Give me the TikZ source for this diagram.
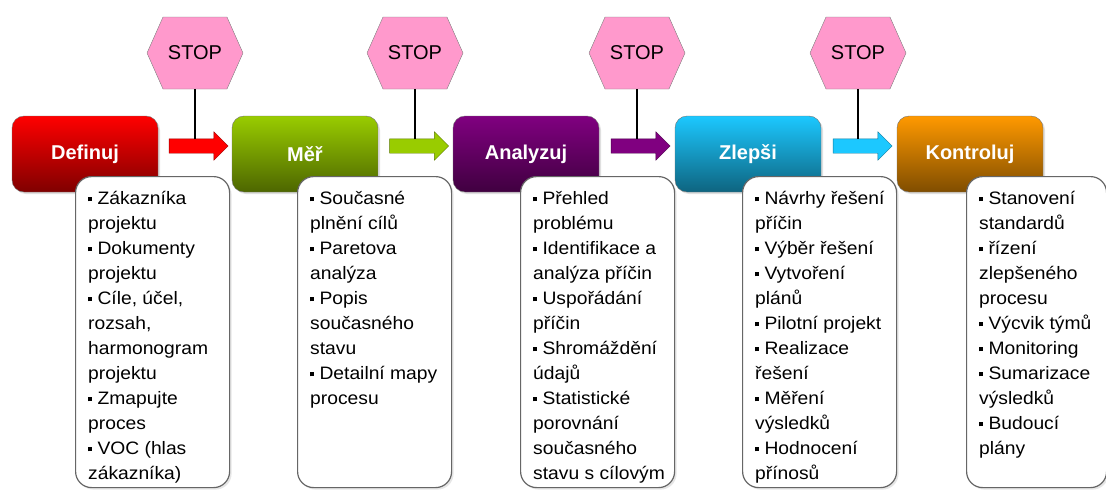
\documentclass[tikz,border=0pt]{standalone}
\usepackage{fontspec}
\setmainfont{Liberation Sans}
\newfontfamily\listfont[FakeStretch=1.07]{Liberation Sans}
\usetikzlibrary{positioning,calc,shapes.symbols,shapes.arrows,shadows}

\definecolor{defred}{HTML}{FF0000}
\definecolor{mergreen}{HTML}{99CC00}
\definecolor{anapurple}{HTML}{800080}
\definecolor{zlecyan}{HTML}{1CC8FF}
\definecolor{konorange}{HTML}{FF9900}
\definecolor{stoppink}{HTML}{FF99CC}

\newcommand{\bul}{\rule[3pt]{4pt}{4pt}\ }

\begin{document}
\begin{tikzpicture}[x=1pt,y=-1pt,
    phase/.style={draw=black!55, rounded corners=12pt, minimum width=146pt, minimum height=76pt,
      font=\bfseries\fontsize{20}{24}\selectfont, text=white,
      drop shadow={opacity=0.25,shadow xshift=2pt,shadow yshift=-2pt}},
    listbox/.style={draw=black!60, line width=1.2pt, fill=white, rounded corners=16pt,
      minimum width=154pt, minimum height=311pt, anchor=north west,
      drop shadow={opacity=0.2,shadow xshift=2pt,shadow yshift=-2pt}},
    listtext/.style={align=left, anchor=north west, inner sep=0pt,
      font=\listfont\fontsize{18}{25}\selectfont, execute at begin node={\rule{0pt}{17pt}}},
    stopsign/.style={signal, signal to=east and west, signal pointer angle=132,
      draw=black!50, fill=stoppink, minimum width=96pt, minimum height=72pt,
      inner sep=0pt, font=\fontsize{20}{24}\selectfont},
    flow/.style={single arrow, minimum height=59pt, minimum width=28pt,
      single arrow head extend=7pt, inner xsep=0pt, inner ysep=7pt, yshift=8pt},
    pole/.style={line width=2.5pt, black}]
  \useasboundingbox (0,0) rectangle (1106,490);

  % phases
  \node[phase, top color=defred, middle color=defred!85!black, bottom color=defred!50!black] (def) at (85,154) {Definuj};
  \node[phase, top color=mergreen, middle color=mergreen!85!black, bottom color=mergreen!50!black] (mer) at (305,154) {Měř};
  \node[phase, top color=anapurple, middle color=anapurple!85!black, bottom color=anapurple!50!black] (ana) at (526,154) {Analyzuj};
  \node[phase, top color=zlecyan, middle color=zlecyan!85!black, bottom color=zlecyan!50!black] (zle) at (748,154) {Zlepši};
  \node[phase, top color=konorange, middle color=konorange!85!black, bottom color=konorange!50!black] (kon) at (970,154) {Kontroluj};

  % lists
  \node[listbox] (ldef) at (75,176) {};
  \node[listtext] (tdef) at ([xshift=13pt,yshift=-15pt]ldef.north west)
    {\bul Zákazníka\\projektu\\\bul Dokumenty\\projektu\\\bul Cíle, účel,\\rozsah,\\harmonogram\\projektu\\\bul Zmapujte\\proces\\\bul VOC (hlas\\zákazníka)};
  \node[listbox] (lmer) at (297,176) {};
  \node[listtext] (tmer) at ([xshift=13pt,yshift=-15pt]lmer.north west)
    {\bul Současné\\plnění cílů\\\bul Paretova\\analýza\\\bul Popis\\současného\\stavu\\\bul Detailní mapy\\procesu};
  \node[listbox] (lana) at (520,176) {};
  \node[listtext] (tana) at ([xshift=13pt,yshift=-15pt]lana.north west)
    {\bul Přehled\\problému\\\bul Identifikace a\\analýza příčin\\\bul Uspořádání\\příčin\\\bul Shromáždění\\údajů\\\bul Statistické\\porovnání\\současného\\stavu s cílovým};
  \node[listbox] (lzle) at (742,176) {};
  \node[listtext] (tzle) at ([xshift=13pt,yshift=-15pt]lzle.north west)
    {\bul Návrhy řešení\\příčin\\\bul Výběr řešení\\\bul Vytvoření\\plánů\\\bul Pilotní projekt\\\bul Realizace\\řešení\\\bul Měření\\výsledků\\\bul Hodnocení\\přínosů};
  \node[listbox, minimum width=140pt] (lkon) at (966,176) {};
  \node[listtext] (tkon) at ([xshift=13pt,yshift=-15pt]lkon.north west)
    {\bul Stanovení\\standardů\\\bul řízení\\zlepšeného\\procesu\\\bul Výcvik týmů\\\bul Monitoring\\\bul Sumarizace\\výsledků\\\bul Budoucí\\plány};

  % arrows between phases
  \node[flow, fill=defred, draw=defred!60!black] (a1) at ($(def.east)!0.5!(mer.west)$) {};
  \node[flow, fill=mergreen, draw=mergreen!60!black] (a2) at ($(mer.east)!0.5!(ana.west)$) {};
  \node[flow, fill=anapurple, draw=anapurple!60!black] (a3) at ($(ana.east)!0.5!(zle.west)$) {};
  \node[flow, fill=zlecyan, draw=zlecyan!60!black] (a4) at ($(zle.east)!0.5!(kon.west)$) {};

  % stop signs
  \node[stopsign] (s1) at (195,53) {STOP};
  \node[stopsign] (s2) at (415,53) {STOP};
  \node[stopsign] (s3) at (637,53) {STOP};
  \node[stopsign] (s4) at (858,53) {STOP};
  \draw[pole] (s1.south) -- (s1.south |- a1.north);
  \draw[pole] (s2.south) -- (s2.south |- a2.north);
  \draw[pole] (s3.south) -- (s3.south |- a3.north);
  \draw[pole] (s4.south) -- (s4.south |- a4.north);
\end{tikzpicture}
\end{document}
